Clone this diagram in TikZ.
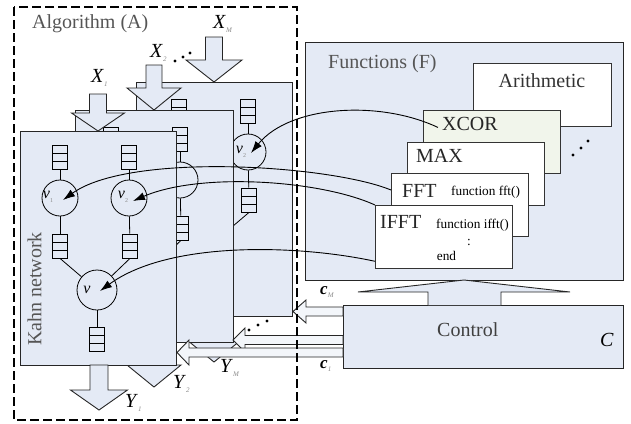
\documentclass[tikz,border=0pt]{standalone}
\usepackage{fontspec}
\setmainfont{Liberation Serif}
\usetikzlibrary{arrows.meta,calc}
\definecolor{boxfill}{HTML}{E4EAF5}
\definecolor{xcorfill}{HTML}{F1F5EB}
\definecolor{txtgray}{HTML}{555555}
\definecolor{subgray}{HTML}{8A8A8A}
\newcommand\sublab[2]{\textit{#1}\raisebox{-0.45ex}{\fontsize{7}{7}\selectfont\color{subgray}\textit{#2}}}
\newcommand\nulab[1]{\textit{ν}\raisebox{-0.6ex}{\fontsize{6}{6}\selectfont\color{subgray}#1}}
\newcommand\darrow[6]{\draw[blockarrow] ({#1-#5},#2) -- ({#1+#5},#2) -- ({#1+#5},#3) -- ({#1+#6},#3) -- (#1,#4) -- ({#1-#6},#3) -- ({#1-#5},#3) -- cycle;}
\newcommand\larrow[6]{\draw[blockarrow,fill=white!55!boxfill] (#1,#2) -- (#3,{#2-#6}) -- (#3,{#2-#5}) -- (#4,{#2-#5}) -- (#4,{#2+#5}) -- (#3,{#2+#5}) -- (#3,{#2+#6}) -- cycle;}
\newcommand\kahnnet[4]{%
\begin{scope}[shift={(#2,#3)}]
\node[queue] (#1qa) at (40,26) {};
\node[queue] (#1qb) at (109,26) {};
\node[proc] (#1va) at (40,67) {};
\node[proc] (#1vb) at (109,67) {};
\node[queue] (#1qc) at (40,115) {};
\node[queue] (#1qd) at (110,115) {};
\node[proc,minimum size=40pt] (#1vc) at (#4,159) {};
\node[queue] (#1qe) at (#4,208) {};
\draw[net] (#1qa) -- (#1va);
\draw[net] (#1qb) -- (#1vb);
\draw[net] (#1va) -- (#1qc);
\draw[net] (#1vb) -- (#1qd);
\draw[net] (#1qc.south) -- (#1vc);
\draw[net] (#1qd.south) -- (#1vc);
\draw[net] (#1vc) -- (#1qe);
\end{scope}}
\begin{document}
\begin{tikzpicture}[x=1pt,y=-1pt,
 layerbox/.style={draw=black!85, fill=boxfill, line width=0.9pt, minimum width=156pt, minimum height=234pt, anchor=north west, inner sep=0pt},
 queue/.style={draw, fill=boxfill, line width=0.8pt, minimum width=15pt, minimum height=24pt, inner sep=0pt,
   path picture={\draw[line width=0.8pt]
     ($(path picture bounding box.north west)!1/3!(path picture bounding box.south west)$) -- ($(path picture bounding box.north east)!1/3!(path picture bounding box.south east)$)
     ($(path picture bounding box.north west)!2/3!(path picture bounding box.south west)$) -- ($(path picture bounding box.north east)!2/3!(path picture bounding box.south east)$);}},
 proc/.style={draw, circle, line width=0.8pt, minimum size=36pt, inner sep=0pt},
 net/.style={line width=0.8pt},
 blockarrow/.style={draw=black!85, fill=boxfill, line width=0.9pt, line join=miter},
 bigbox/.style={draw=black!85, fill=boxfill, line width=1pt, anchor=north west, inner sep=0pt},
 card/.style={draw=black!80, fill=white, line width=1.3pt, minimum width=137pt, minimum height=63pt, anchor=north west, inner sep=0pt},
 conn/.style={line width=0.9pt, -{Latex[length=12pt,width=8pt]}},
 big/.style={font=\fontsize{20}{24}\selectfont, inner sep=0pt},
 small/.style={font=\fontsize{13.3}{15}\selectfont, inner sep=0pt},
 nul/.style={font=\fontsize{16}{16}\selectfont, inner sep=0pt},
 dotc/.style={circle, fill=black, inner sep=0pt, minimum size=3.2pt},
]
\useasboundingbox (0,0) rectangle (631,423);
% Functions box
\node[bigbox, minimum width=318pt, minimum height=238pt] (F) at (305,42) {};
\node[big, text=txtgray, anchor=base west] (Ftitle) at (328,68) {Functions (F)};
\node[card, minimum width=138pt] (arith) at (473,63) {};
\node[big, text=black!80, anchor=base] (aritht) at (542,87) {Arithmetic};
\node[card, fill=xcorfill] (xcor) at (423,110) {};
\node[big, text=black!85, anchor=base west] (xcort) at (442,130) {XCOR};
\node[card] (max) at (407,142) {};
\node[big, text=black!85, anchor=base west] (maxt) at (416,162) {MAX};
\node[card] (fft) at (391,173) {};
\node[big, text=black!85, anchor=base west] (fftt) at (402,197) {FFT};
\node[small, anchor=base west] (fftf) at (451,195) {function fft()};
\node[card] (ifft) at (375,205) {};
\node[big, text=black!85, anchor=base west] (ifftt) at (380,228) {IFFT};
\node[small, anchor=base west] (ifftf) at (436,228) {function ifft()};
\node[small] (colon) at (469,242) {:};
\node[small, anchor=base] (endt) at (446.5,260) {end};
\node[dotc] (fd1) at (573,155) {};
\node[dotc] (fd2) at (581,148) {};
\node[dotc] (fd3) at (588,141) {};
% Control
\node[bigbox, minimum width=280pt, minimum height=63pt] (ctrl) at (343,305) {};
\draw[blockarrow] (428,305) -- (428,292) -- (358,292) -- (464,280) -- (570,292) -- (501,292) -- (501,305);
\node[big, text=black!75, anchor=base west] (ctrlt) at (437,336) {Control};
\node[big, anchor=base west] (Ct) at (600,346) {\textit{C}};
% Layer 3
\node[layerbox] (L3) at (136,82) {};
\kahnnet{L3}{139}{85}{73}
\node[nul] (L3lab) at ([shift={(-7,0)}]L3vb.center) {\nulab{2}};
\darrow{214}{37}{60}{82}{8.5}{28}
\darrow{214}{316}{340}{362}{8.5}{27}
% Layer 2
\node[layerbox, minimum width=158pt, minimum height=232pt] (L2) at (75,110) {};
\kahnnet{L2}{71}{113}{77}
\darrow{154}{65}{88}{110}{8}{27}
\darrow{154}{342}{365}{387}{8.5}{27}
% Layer 1
\node[layerbox] (L1) at (20,131) {};
\kahnnet{L1}{20}{131}{77}
\node[nul] (L1lab1) at ([shift={(-12,-1)}]L1va.center) {\nulab{1}};
\node[nul] (L1lab2) at ([shift={(-6,-1)}]L1vb.center) {\nulab{2}};
\node[nul] (L1lab3) at ([shift={(-10,0)}]L1vc.center) {\textit{ν}};
\node[big, text=txtgray, rotate=90] (kahn) at (34.5,289) {Kahn network};
\darrow{98}{94}{113}{131}{8.5}{26.5}
\darrow{99}{365}{390}{410}{9}{28.5}
% control arrows
\larrow{293}{311.5}{306}{343}{4.5}{11.5}
\larrow{233}{340}{245}{343}{4.5}{12}
\larrow{177}{352.5}{189}{343}{4.5}{12.5}
\node[dotc] (cd1) at (249,330) {};
\node[dotc] (cd2) at (258,325) {};
\node[dotc] (cd3) at (267,321) {};
% Algorithm dashed box
\draw[line width=1.3pt, dash pattern=on 9pt off 4pt] (14,7) rectangle (297,420);
\node[big, text=txtgray, anchor=base west] (algt) at (32,28) {Algorithm (A)};
% labels
\node[big, anchor=base west] (XMl) at (213,28) {\sublab{X}{M}};
\node[big, anchor=base west] (X2l) at (150,57) {\sublab{X}{2}};
\node[big, anchor=base west] (X1l) at (91,82) {\sublab{X}{1}};
\node[dotc] (xd1) at (175,61) {};
\node[dotc] (xd2) at (183,57) {};
\node[dotc] (xd3) at (190,53) {};
\node[big, anchor=base west] (Y1l) at (125,407) {\sublab{Y}{1}};
\node[big, anchor=base west] (Y2l) at (173,388) {\sublab{Y}{2}};
\node[big, anchor=base west] (YMl) at (220,372) {\sublab{Y}{M}};
\node[font=\fontsize{17}{17}\selectfont, inner sep=0pt, anchor=base west] (cMl) at (320,294) {\sublab{\textbf{c}}{M}};
\node[font=\fontsize{17}{17}\selectfont, inner sep=0pt, anchor=base west] (c1l) at (320,368) {\sublab{\textbf{c}}{1}};
% connectors
\draw[conn] ([shift={(-4,4)}]xcort.west) .. controls (380,100) and (290,105) .. ([shift={(3,1)}]L3vb.center);
\draw[conn] ([shift={(0,17)}]fft.north west) .. controls (330,165) and (130,152) .. ([shift={(3,2)}]L1va.center);
\draw[conn] (ifft.north west) .. controls (320,180) and (200,172) .. ([shift={(4,3)}]L1vb.center);
\draw[conn] ([shift={(0,-8)}]ifft.south west) .. controls (300,245) and (170,240) .. ([shift={(3,1)}]L1vc.center);
\end{tikzpicture}
\end{document}
